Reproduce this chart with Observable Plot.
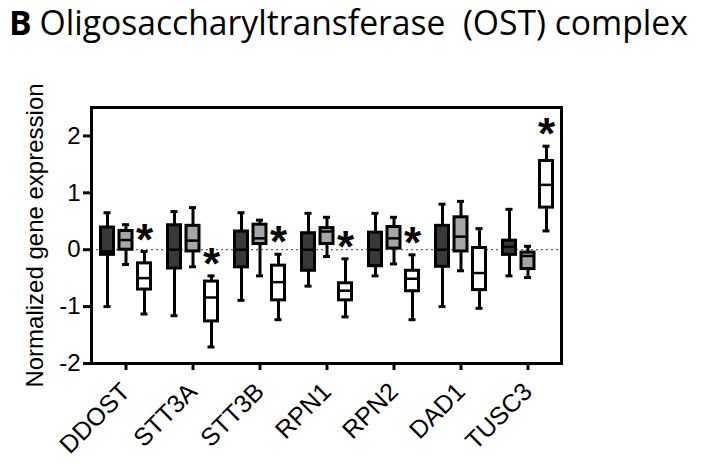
<!DOCTYPE html>
<html>
<head>
<meta charset="utf-8">
<script src="https://cdn.jsdelivr.net/npm/d3@7"></script>
<script src="https://cdn.jsdelivr.net/npm/@observablehq/plot@0.6"></script>
<style>
  html, body { margin: 0; padding: 0; background: #fff; }
  #title { position: relative; width: 704px; height: 60px; font-family: "Open Sans", sans-serif; }
  #title span.t { position: absolute; left: 9px; top: -1px; font-size: 34px; line-height: normal; white-space: nowrap; color: #000; transform: scaleX(0.99); transform-origin: left top; }
  #title b { font-weight: 700; margin-right: 8px; }
</style>
</head>
<body>
<div id="title"><span class="t"><b>B</b>Oligosaccharyltransferase&nbsp; (OST) complex</span></div>
<div id="chart"></div>
<script>
const genes = ["DDOST", "STT3A", "STT3B", "RPN1", "RPN2", "DAD1", "TUSC3"];
const groups = ["Group 1", "Group 2", "Group 3"];
// each entry: [min, q1, median, q3, max]
const group1Stats = [
  [-1.00, -0.09, -0.03, 0.39, 0.65],
  [-1.16, -0.33, 0.00, 0.43, 0.67],
  [-0.89, -0.31, 0.00, 0.32, 0.65],
  [-0.64, -0.37, 0.00, 0.29, 0.64],
  [-0.46, -0.29, 0.00, 0.30, 0.64],
  [-1.00, -0.30, 0.00, 0.42, 0.80],
  [-0.46, -0.09, 0.05, 0.16, 0.71]
];
const group2Stats = [
  [-0.26, 0.00, 0.17, 0.33, 0.44],
  [-0.30, -0.03, 0.16, 0.42, 0.74],
  [-0.46, 0.10, 0.20, 0.44, 0.52],
  [-0.12, 0.10, 0.32, 0.38, 0.57],
  [-0.25, 0.02, 0.20, 0.40, 0.57],
  [-0.37, -0.03, 0.23, 0.57, 0.85],
  [-0.49, -0.34, -0.11, -0.05, 0.06]
];
const group3Stats = [
  [-1.13, -0.70, -0.50, -0.24, -0.03],
  [-1.71, -1.26, -0.84, -0.56, -0.46],
  [-1.23, -0.89, -0.57, -0.28, -0.08],
  [-1.18, -0.89, -0.72, -0.59, -0.16],
  [-1.23, -0.73, -0.51, -0.37, -0.09],
  [-1.03, -0.71, -0.41, 0.03, 0.37],
  [0.33, 0.74, 1.14, 1.56, 1.82]
];
const significant = [true, true, true, true, true, false, true];
const yTicks = [-2, -1, 0, 1, 2];

const fills = ["#383838", "#a6a6a6", "#ffffff"];
const allStats = [group1Stats, group2Stats, group3Stats];
const rowsByGroup = allStats.map((stats, g) => stats.map((s, i) => ({
  gene: genes[i], group: groups[g], min: s[0], q1: s[1], median: s[2], q3: s[3], max: s[4], sig: significant[i]
})));

const step = 18.5;     // px offset between groups in a gene band
const boxInset = 27;   // band inset for boxes
const capInset = 30;   // band inset for whisker caps

const marks = [
  Plot.ruleY([0], {stroke: "#666", strokeDasharray: "2,3", strokeWidth: 1.2})
];
rowsByGroup.forEach((rows, g) => {
  const dx = (g - 1) * step;
  marks.push(
    Plot.ruleX(rows, {x: "gene", y1: "min", y2: "max", stroke: "black", strokeWidth: 3, dx}),
    Plot.tickY(rows, {x: "gene", y: "min", stroke: "black", strokeWidth: 3, insetLeft: capInset, insetRight: capInset, dx}),
    Plot.tickY(rows, {x: "gene", y: "max", stroke: "black", strokeWidth: 3, insetLeft: capInset, insetRight: capInset, dx}),
    Plot.barY(rows, {x: "gene", y1: "q1", y2: "q3", fill: fills[g], stroke: "black", strokeWidth: 3, insetLeft: boxInset, insetRight: boxInset, dx}),
    Plot.tickY(rows, {x: "gene", y: "median", stroke: "black", strokeWidth: 2.5, insetLeft: boxInset, insetRight: boxInset, dx})
  );
});
marks.push(
  Plot.text(rowsByGroup[2].filter(d => d.sig), {x: "gene", y: "max", text: () => "*", dx: step, dy: -11, fontSize: 44, fontWeight: "bold", fill: "black"}),
  Plot.frame({stroke: "black", strokeWidth: 3}),
  Plot.axisY({ticks: yTicks, tickFormat: d => String(d), tickSize: 8, tickPadding: 3, fontSize: 24, strokeWidth: 3, label: null}),
  Plot.axisX({tickRotate: -45, tickSize: 7, tickPadding: 17, fontSize: 25, strokeWidth: 3, label: null}),
  Plot.text(["Normalized gene expression"], {frameAnchor: "left", rotate: -90, dx: -56, textAnchor: "middle", fontSize: 24, fill: "black"})
);

const chart = Plot.plot({
  width: 704,
  height: 404,
  marginTop: 47,
  marginBottom: 101,
  marginLeft: 91,
  marginRight: 143,
  style: {fontFamily: "Liberation Sans, Arial, sans-serif", background: "white", color: "black"},
  x: {domain: genes, padding: 0, label: null},
  y: {domain: [-2, 2.5], label: null},
  marks
});
document.getElementById("chart").appendChild(chart);
</script>
</body>
</html>
